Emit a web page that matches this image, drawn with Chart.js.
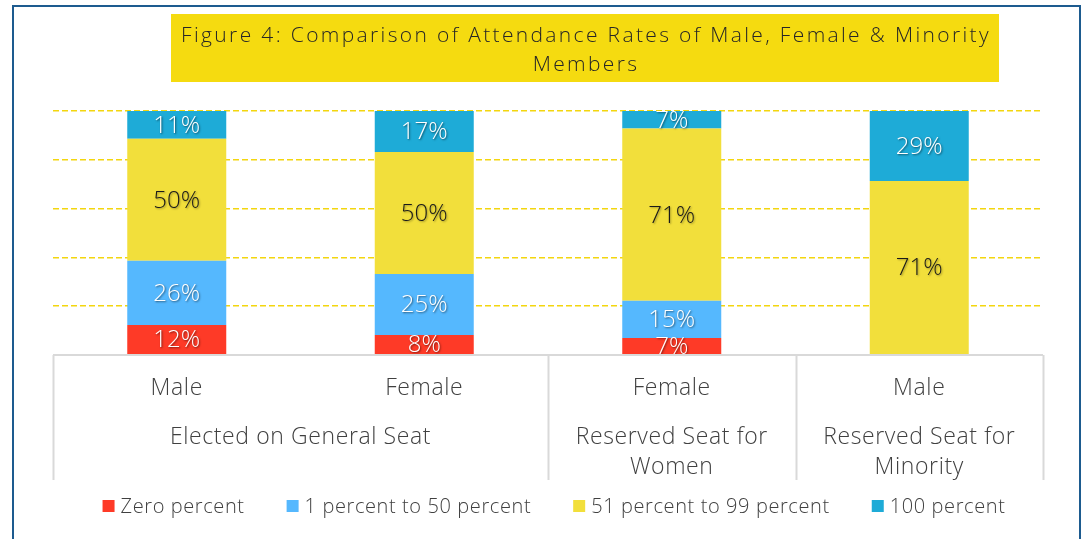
<!DOCTYPE html>
<html>
<head>
<meta charset="utf-8">
<script src="https://cdn.jsdelivr.net/npm/chart.js@4"></script>
<style>
  html, body { margin: 0; padding: 0; background: #fff; }
  #wrap { position: relative; width: 1084px; height: 539px; overflow: hidden; }
  #frame { position: absolute; left: 12px; top: 5px; width: 1069px; height: 600px; border: 2px solid #1d5b8f; box-sizing: border-box; }
  #chart { position: absolute; left: 0; top: 0; }
</style>
</head>
<body>
<div id="wrap">
  <div id="frame"></div>
  <canvas id="chart" width="1084" height="539"></canvas>
</div>
<script>
// data
const titleLines = ['Figure 4: Comparison of Attendance Rates of Male, Female & Minority', 'Members']
const categories = ['Male', 'Female', 'Female', 'Male']
const groupLabels = [['Elected on General Seat'], ['Reserved Seat for', 'Women'], ['Reserved Seat for', 'Minority']]
const groupSpans = [2, 1, 1]
const seriesNames = ['Zero percent', '1 percent to 50 percent', '51 percent to 99 percent', '100 percent']
const zeroPct = [12.3, 8.2, 7.0, 0]
const lowPct = [26.3, 25.0, 15.2, 0]
const highPct = [50.0, 50.0, 70.6, 71.3]
const fullPct = [11.4, 16.8, 7.2, 28.7]
const yTicks = [0, 20, 40, 60, 80, 100]

const colors = ['#fe3a27', '#55b8fe', '#f2df3b', '#1eabd7']
const FONT = '"Open Sans", Lato, sans-serif'

// title box, data labels, two-level category table and legend
const decor = {
    id: 'decor',
    beforeDraw(chart) {
        const ctx = chart.ctx
        ctx.save()
        ctx.fillStyle = '#f5db10'
        ctx.fillRect(171, 14, 828, 68)
        ctx.restore()
    },
    afterDatasetsDraw(chart) {
        const ctx = chart.ctx
        ctx.save()
        ctx.font = '300 24px ' + FONT
        ctx.textAlign = 'center'
        ctx.textBaseline = 'middle'
        chart.data.datasets.forEach((ds, di) => {
            const meta = chart.getDatasetMeta(di)
            meta.data.forEach((bar, i) => {
                const v = ds.data[i]
                if (!v) return
                const y = (bar.y + bar.base) / 2
                if (di === 2) {
                    ctx.shadowColor = 'rgba(0,0,0,0.35)'
                    ctx.fillStyle = '#1a1a1a'
                } else {
                    ctx.shadowColor = 'rgba(0,0,0,0.55)'
                    ctx.fillStyle = '#ffffff'
                }
                ctx.shadowBlur = 2
                ctx.shadowOffsetX = 1
                ctx.shadowOffsetY = 1
                ctx.fillText(Math.round(v) + '%', bar.x, y + 1)
            })
        })
        ctx.restore()
    },
    afterDraw(chart) {
        const ctx = chart.ctx
        const area = chart.chartArea
        const xs = chart.scales.x
        const bottom = 480

        ctx.save()
        // title
        ctx.fillStyle = '#262626'
        ctx.font = '300 21px ' + FONT
        ctx.textAlign = 'center'
        ctx.textBaseline = 'middle'
        ctx.letterSpacing = '2.35px'
        ctx.fillText(titleLines[0], 586, 36)
        ctx.fillText(titleLines[1], 586, 65)

        // category table
        const edge = (i) => {
            if (i <= 0) return area.left
            if (i >= categories.length) return area.right
            return (xs.getPixelForValue(i - 1) + xs.getPixelForValue(i)) / 2
        }
        ctx.strokeStyle = '#d9d9d9'
        ctx.lineWidth = 2
        ctx.beginPath()
        ctx.moveTo(area.left, area.bottom)
        ctx.lineTo(area.right, area.bottom)
        let idx = 0
        const cuts = [0]
        groupSpans.forEach(s => { idx += s; cuts.push(idx) })
        cuts.forEach(c => {
            const x = Math.round(edge(c)) + 0.5
            ctx.moveTo(x, area.bottom)
            ctx.lineTo(x, bottom)
        })
        ctx.stroke()

        ctx.fillStyle = '#404040'
        ctx.font = '300 23px ' + FONT
        ctx.letterSpacing = '0.6px'
        categories.forEach((c, i) => {
            ctx.fillText(c, xs.getPixelForValue(i), 388)
        })
        groupLabels.forEach((lines, g) => {
            const cx = (edge(cuts[g]) + edge(cuts[g + 1])) / 2
            lines.forEach((t, k) => ctx.fillText(t, cx, 437 + k * 30))
        })

        // legend
        ctx.font = '300 20px ' + FONT
        ctx.letterSpacing = '0.6px'
        ctx.textAlign = 'left'
        const box = 12, gap = 6, between = 42
        const widths = seriesNames.map(n => ctx.measureText(n).width)
        const total = widths.reduce((a, w) => a + box + gap + w, 0) + between * (seriesNames.length - 1)
        let x = 554 - total / 2
        seriesNames.forEach((n, i) => {
            ctx.fillStyle = colors[i]
            ctx.fillRect(x, 500, box, box)
            ctx.fillStyle = '#404040'
            ctx.fillText(n, x + box + gap, 507)
            x += box + gap + widths[i] + between
        })
        ctx.restore()
    }
}

new Chart(document.querySelector('#chart'), {
    type: 'bar',
    data: {
        labels: categories,
        datasets: [zeroPct, lowPct, highPct, fullPct].map((d, i) => ({
            label: seriesNames[i],
            data: d,
            backgroundColor: colors[i],
            borderWidth: 0,
            barPercentage: 0.4,
            categoryPercentage: 1
        }))
    },
    options: {
        responsive: false,
        animation: false,
        layout: { padding: { left: 53, right: 41, top: 111, bottom: 184 } },
        plugins: {
            legend: { display: false },
            title: { display: false },
            tooltip: { enabled: false }
        },
        scales: {
            x: { stacked: true, display: false },
            y: {
                stacked: true,
                min: yTicks[0],
                max: yTicks[yTicks.length - 1],
                afterBuildTicks: s => { s.ticks = yTicks.map(v => ({ value: v })) },
                afterFit: s => { s.width = 0 },
                ticks: { display: false },
                grid: {
                    drawTicks: false,
                    lineWidth: 1.5,
                    color: c => c.tick && c.tick.value === 0 ? 'rgba(0,0,0,0)' : '#f3d60f'
                },
                border: { display: false, dash: [6, 3] }
            }
        }
    },
    plugins: [decor]
})
</script>
</body>
</html>
